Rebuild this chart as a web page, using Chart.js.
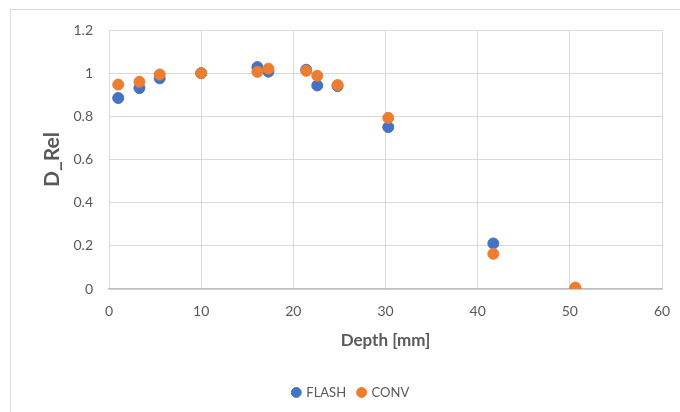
<!DOCTYPE html>
<html>
<head>
<meta charset="utf-8">
<script src="https://cdn.jsdelivr.net/npm/chart.js@4"></script>
<style>
  body { margin: 0; background: #fff; }
  #wrap { position: relative; width: 680px; height: 412px; overflow: hidden; }
  #frame { position: absolute; left: 10px; top: 9px; width: 720px; height: 440px; border: 1px solid #d9d9d9; }
  canvas { position: absolute; left: 0; top: 0; }
</style>
</head>
<body>
<div id="wrap">
  <div id="frame"></div>
  <canvas id="chart" width="680" height="412"></canvas>
</div>
<script>
// depth in mm, relative dose
const depth = [1.0, 3.3, 5.5, 10.0, 16.1, 17.3, 21.4, 22.6, 24.8, 30.3, 41.7, 50.6];
const flash = [0.885, 0.931, 0.976, 1.0, 1.028, 1.007, 1.016, 0.943, 0.940, 0.750, 0.211, 0.0];
const conv  = [0.947, 0.960, 0.994, 1.0, 1.006, 1.021, 1.011, 0.988, 0.945, 0.793, 0.163, 0.007];

const grey = "#595959";
const font = "Lato, 'Open Sans', sans-serif";

const toPoints = (ys) => depth.map((x, i) => ({ x: x, y: ys[i] }));

new Chart(document.getElementById("chart"), {
  type: "scatter",
  data: {
    datasets: [
      {
        label: "FLASH",
        data: toPoints(flash),
        backgroundColor: "#4472C4",
        borderColor: "#4472C4",
        pointRadius: 5.5,
        order: 1,
      },
      {
        label: "CONV",
        data: toPoints(conv),
        backgroundColor: "#ED7D31",
        borderColor: "#ED7D31",
        pointRadius: 5.5,
        order: 0,
      },
    ],
  },
  options: {
    responsive: false,
    animation: false,
    layout: { padding: { left: 40, right: 18, top: 30, bottom: 3 } },
    plugins: {
      tooltip: { enabled: false },
      legend: {
        position: "bottom",
        labels: {
          usePointStyle: true,
          pointStyle: "circle",
          boxWidth: 7,
          boxHeight: 7,
          padding: 12,
          color: grey,
          font: { family: font, size: 13 },
          sort: (a, b) => a.datasetIndex - b.datasetIndex,
        },
      },
    },
    scales: {
      x: {
        type: "linear",
        min: 0,
        max: 60,
        ticks: { stepSize: 10, color: grey, padding: 0, font: { family: font, size: 14 } },
        grid: { color: "#d9d9d9", drawTicks: true, tickLength: 14, tickColor: "rgba(0,0,0,0)" },
        border: { color: "#bfbfbf", width: 1.5 },
        title: {
          display: true,
          text: "Depth [mm]",
          color: grey,
          font: { family: font, size: 17, weight: "bold" },
          padding: { top: 0, bottom: 23 },
        },
        afterFit: (axis) => { axis.height = 85; },
      },
      y: {
        min: 0,
        max: 1.2,
        ticks: {
          stepSize: 0.2,
          color: grey,
          padding: 16,
          font: { family: font, size: 14 },
          callback: (v) => String(Number(v.toFixed(1))),
        },
        grid: { color: "#d9d9d9", drawTicks: false },
        border: { display: false },
        title: {
          display: true,
          text: "D_Rel",
          color: grey,
          font: { family: font, size: 21, weight: "bold" },
          padding: { top: 0, bottom: 0 },
        },
        afterFit: (axis) => { axis.width = 69; },
      },
    },
  },
});
</script>
</body>
</html>
